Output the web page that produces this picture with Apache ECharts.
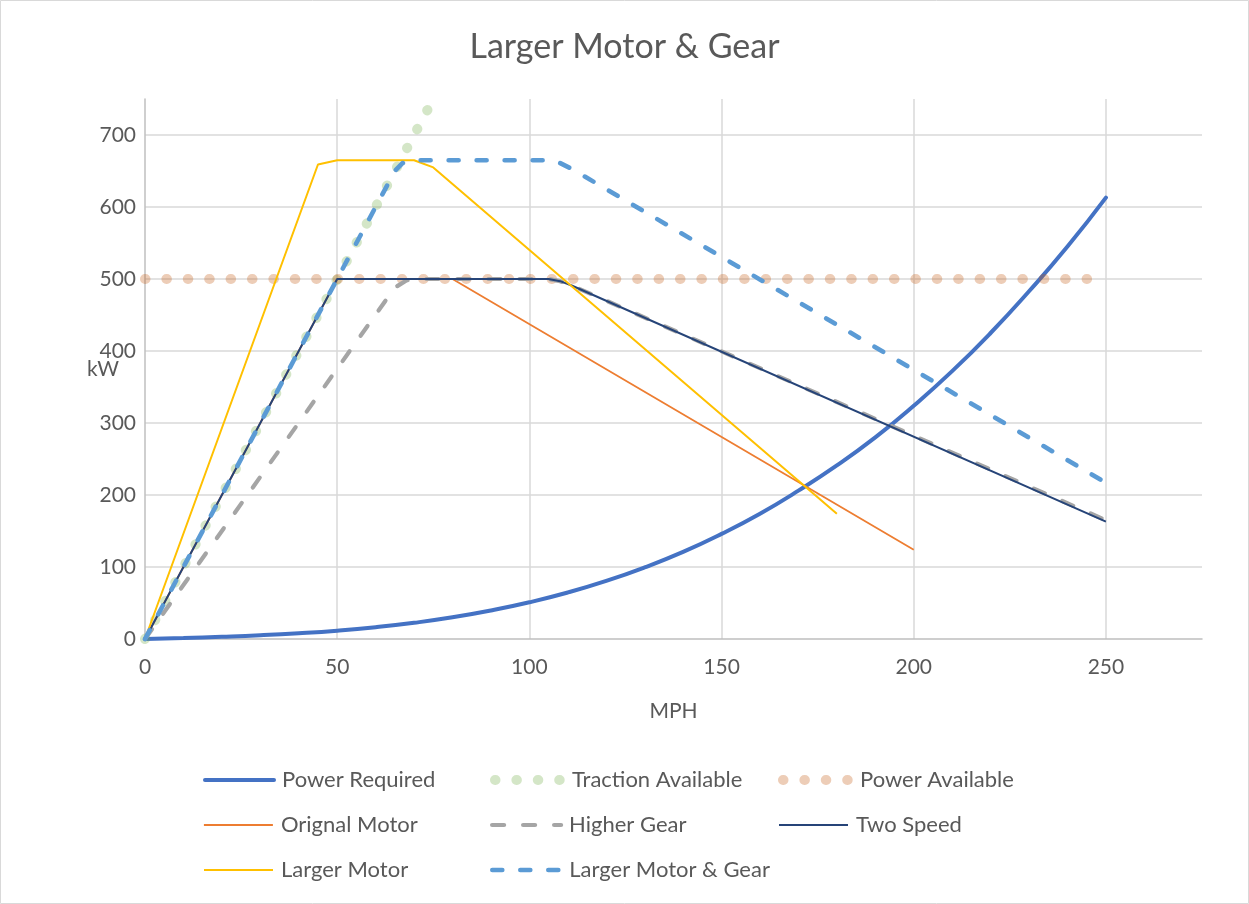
<!DOCTYPE html>
<html><head><meta charset="utf-8">
<script src="https://cdn.jsdelivr.net/npm/echarts@6/dist/echarts.min.js"></script>
<style>html,body{margin:0;padding:0;background:#fff}#c{width:1249px;height:904px}</style>
</head><body><div id="c"></div><script>
// ---- data ----
const titleText = 'Larger Motor & Gear';
const xName = 'MPH';
const yName = 'kW';
const seriesNames = ['Power Required','Traction Available','Power Available','Orignal Motor','Higher Gear','Two Speed','Larger Motor','Larger Motor & Gear'];

const powerReqSpeed = [0,10,20,30,40,50,60,70,80,90,100,110,120,130,140,150,160,170,180,190,200,210,220,230,240,250];
const powerReqKW    = [0,1.4,3.1,5.2,8.0,11.6,16.4,22.5,30.1,39.6,51,64.6,80.7,99.5,121,146,174,206,241,280,324,372,425,483,545,613];

const tractionSpeed = [0,73.5];
const tractionKW    = [0,735];

const powerAvailSpeed = [0,245.5];
const powerAvailKW    = [500,500];

const origSpeed = [0,50,80,200];
const origKW    = [0,500,500,124];

const higherSpeed = [0,65,68,70,105,108,111,250];
const higherKW    = [0,488,498,500,500,497,491,165];

const twoSpeedSpeed = [0,50,105,108,111,250];
const twoSpeedKW    = [0,500,500,497,491,163];

const largerSpeed = [0,45,50,70,75,180];
const largerKW    = [0,659,665,665,655,174];

const largerGearSpeed = [0,50,65,67,70,105,108,111,250];
const largerGearKW    = [0,500,650,661,665,665,661,653,217];

const xTicksMax = 275, xInterval = 50;
const yTicksMax = 750, yInterval = 100;

function pairs(xs, ys){ return xs.map((x,i)=>[x, ys[i]]); }

const FONT = 'Lato';
const GREY = '#595959';

const chart = echarts.init(document.getElementById('c'), null, {renderer:'canvas'});

const series = [
  {name: seriesNames[0], data: pairs(powerReqSpeed, powerReqKW), lineStyle:{color:'#4472C4', width:4, cap:'round'}, color:'#4472C4', smooth:true},
  {name: seriesNames[1], data: pairs(tractionSpeed, tractionKW), lineStyle:{color:'rgba(112,173,71,0.3)', width:10, type:[0.5,20.9], cap:'round'}, color:'rgba(112,173,71,0.3)'},
  {name: seriesNames[2], data: pairs(powerAvailSpeed, powerAvailKW), lineStyle:{color:'rgba(197,90,17,0.3)', width:10, type:[0.5,20.9], cap:'round'}, color:'rgba(197,90,17,0.3)'},
  {name: seriesNames[3], data: pairs(origSpeed, origKW), lineStyle:{color:'#ED7D31', width:1.8}, color:'#ED7D31'},
  {name: seriesNames[4], data: pairs(higherSpeed, higherKW), lineStyle:{color:'#A5A5A5', width:4.2, type:[12,19], cap:'round'}, color:'#A5A5A5'},
  {name: seriesNames[5], data: pairs(twoSpeedSpeed, twoSpeedKW), lineStyle:{color:'#264478', width:2}, color:'#264478'},
  {name: seriesNames[6], data: pairs(largerSpeed, largerKW), lineStyle:{color:'#FFC000', width:2}, color:'#FFC000'},
  {name: seriesNames[7], data: pairs(largerGearSpeed, largerGearKW), lineStyle:{color:'#5B9BD5', width:4.6, type:[10,18], cap:'round'}, color:'#5B9BD5'}
].map(s => Object.assign({type:'line', symbol:'none', animation:false, silent:true, clip:false}, s));

// legend positions (3 columns x 3 rows)
const legendCols = [203, 490, 778];
const legendRows = [780, 825, 870];
const legends = seriesNames.map((n, i) => ({
  data: [n],
  left: legendCols[i % 3],
  top: legendRows[Math.floor(i / 3)] - 13,
  padding: 0,
  itemWidth: 69,
  itemHeight: 14,
  itemGap: 0,
  selectedMode: false,
  itemStyle: {opacity: 0, color: 'transparent', borderWidth: 0},
  lineStyle: {width: 'inherit', type: 'inherit', cap: 'inherit', color: 'inherit', opacity: 'inherit'},
  textStyle: {fontFamily: FONT, fontSize: 22, color: GREY, padding: [0,0,0,3], lineHeight: 26}
}));

chart.setOption({
  backgroundColor: '#fff',
  animation: false,
  title: {text: titleText, left: 'center', top: 25, textStyle: {fontFamily: FONT, fontSize: 34, fontWeight: 'normal', color: GREY}},
  grid: {left: 145, right: 47, top: 99, bottom: 265, containLabel: false},
  xAxis: {
    type: 'value', min: 0, max: xTicksMax, interval: xInterval,
    name: xName, nameLocation: 'middle', nameGap: 62, nameMoveOverlap: false,
    nameTextStyle: {fontFamily: FONT, fontSize: 21, color: GREY},
    axisLine: {show: true, lineStyle: {color: '#bfbfbf', width: 1.5}},
    axisTick: {show: false},
    axisLabel: {fontFamily: FONT, fontSize: 21, color: GREY, margin: 18, showMaxLabel: false},
    splitLine: {show: true, showMinLine: false, showMaxLine: false, lineStyle: {color: '#d9d9d9', width: 1.5}}
  },
  yAxis: {
    type: 'value', min: 0, max: yTicksMax, interval: yInterval,
    name: yName, nameLocation: 'middle', nameGap: 26, nameRotate: 0, nameMoveOverlap: false,
    nameTextStyle: {fontFamily: FONT, fontSize: 21, color: GREY, align: 'right'},
    axisLine: {show: true, lineStyle: {color: '#bfbfbf', width: 1.5}},
    axisTick: {show: false},
    axisLabel: {fontFamily: FONT, fontSize: 21, color: GREY, margin: 9, showMaxLabel: false},
    splitLine: {show: true, showMinLine: false, showMaxLine: false, lineStyle: {color: '#d9d9d9', width: 1.5}}
  },
  legend: legends,
  graphic: [{type: 'rect', silent: true, z: -1, shape: {x: 0.5, y: 0.5, width: 1248, height: 903}, style: {fill: 'none', stroke: '#d9d9d9', lineWidth: 1}}],
  series: series
});
</script></body></html>
